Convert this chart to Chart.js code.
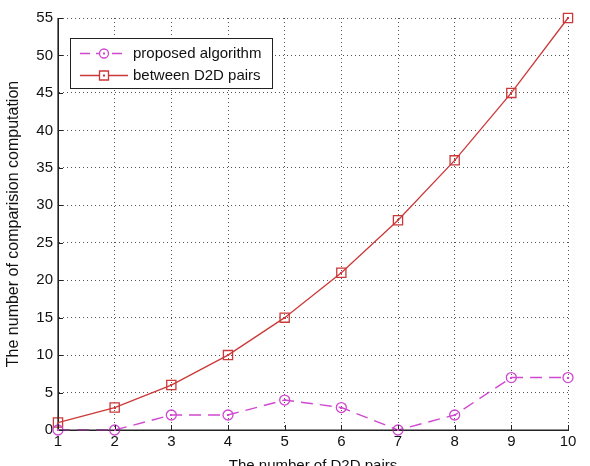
<!DOCTYPE html>
<html>
<head>
<meta charset="utf-8">
<script src="https://cdn.jsdelivr.net/npm/chart.js@4"></script>
<style>
html,body{margin:0;padding:0;background:#fff;}
#wrap{width:590px;height:466px;position:relative;}
</style>
</head>
<body>
<div id="wrap"><canvas id="c" width="590" height="466"></canvas></div>
<script>
const xValues = [1, 2, 3, 4, 5, 6, 7, 8, 9, 10];
const proposedValues = [0, 0, 2, 2, 4, 3, 0, 2, 7, 7];
const betweenValues = [1, 3, 6, 10, 15, 21, 28, 36, 45, 55];
const seriesNames = ['proposed algorithm', 'between D2D pairs'];
const xTitle = 'The number of D2D pairs';
const yTitle = 'The number of comparision computation';

const FONT = "'Liberation Sans', Arial, sans-serif";
const MAG = '#d048d0';
const RED = '#cc3838';

const legendPlugin = {
  id: 'boxLegend',
  afterDraw(chart) {
    const ctx = chart.ctx;
    ctx.save();
    const x0 = 70, y0 = 38, w = 202, h = 50;
    ctx.fillStyle = '#fff';
    ctx.fillRect(x0, y0, w, h);
    ctx.strokeStyle = '#222';
    ctx.lineWidth = 1;
    ctx.strokeRect(x0 + 0.5, y0 + 0.5, w, h);
    const rows = [
      {y: 53, color: MAG, dash: [10, 6], marker: 'circle', text: seriesNames[0]},
      {y: 75, color: RED, dash: [], marker: 'rect', text: seriesNames[1]}
    ];
    rows.forEach(r => {
      ctx.strokeStyle = r.color;
      ctx.lineWidth = 1.3;
      ctx.setLineDash(r.dash);
      ctx.beginPath();
      ctx.moveTo(80, r.y + 0.5);
      ctx.lineTo(128, r.y + 0.5);
      ctx.stroke();
      ctx.setLineDash([]);
      ctx.fillStyle = '#fff';
      ctx.beginPath();
      if (r.marker === 'circle') {
        ctx.arc(104, r.y + 0.5, 4.5, 0, Math.PI * 2);
      } else {
        ctx.rect(99.5, r.y - 4, 9, 9);
      }
      ctx.fill();
      ctx.stroke();
      ctx.fillStyle = r.color;
      ctx.fillRect(103, r.y - 0.5, 2, 2);
      ctx.fillStyle = '#111';
      ctx.font = '15px ' + FONT;
      ctx.textBaseline = 'middle';
      ctx.textAlign = 'left';
      ctx.fillText(r.text, 133, r.y + 1);
    });
    ctx.restore();
  }
};

const axesPlugin = {
  id: 'axesLines',
  afterDatasetsDraw(chart) {
    const a = chart.chartArea;
    const c = chart.ctx;
    c.save();
    c.strokeStyle = '#222';
    c.lineWidth = 1.2;
    c.setLineDash([]);
    c.beginPath();
    c.moveTo(a.left, a.top);
    c.lineTo(a.left, a.bottom);
    c.lineTo(a.right, a.bottom);
    c.stroke();
    c.lineWidth = 1;
    const xs = chart.scales.x, ys = chart.scales.y;
    c.beginPath();
    xs.ticks.forEach(t => {
      const px = Math.round(xs.getPixelForValue(t.value)) + 0.5;
      c.moveTo(px, a.bottom);
      c.lineTo(px, a.bottom - 5);
    });
    ys.ticks.forEach(t => {
      const py = Math.round(ys.getPixelForValue(t.value)) + 0.5;
      c.moveTo(a.left, py);
      c.lineTo(a.left + 5, py);
    });
    c.stroke();
    chart.data.datasets.forEach((ds, i) => {
      const meta = chart.getDatasetMeta(i);
      c.fillStyle = ds.borderColor;
      meta.data.forEach(p => {
        c.fillRect(Math.round(p.x) - 1, Math.round(p.y) - 1, 2, 2);
      });
    });
    c.restore();
  }
};

const ctx = document.getElementById('c');
new Chart(ctx, {
  type: 'line',
  data: {
    datasets: [
      {
        label: seriesNames[0],
        data: xValues.map((x, i) => ({x: x, y: proposedValues[i]})),
        borderColor: MAG,
        backgroundColor: '#fff',
        borderWidth: 1.4,
        borderDash: [12, 7],
        pointStyle: 'circle',
        pointRadius: 5,
        pointBorderWidth: 1.3,
        pointBorderColor: MAG,
        pointBackgroundColor: 'rgba(255,255,255,0)',
        tension: 0,
        clip: false
      },
      {
        label: seriesNames[1],
        data: xValues.map((x, i) => ({x: x, y: betweenValues[i]})),
        borderColor: RED,
        backgroundColor: '#fff',
        borderWidth: 1.3,
        pointStyle: 'rect',
        pointRadius: 6.5,
        pointBorderWidth: 1.3,
        pointBorderColor: RED,
        pointBackgroundColor: 'rgba(255,255,255,0)',
        tension: 0,
        clip: false
      }
    ]
  },
  options: {
    responsive: false,
    animation: false,
    layout: {padding: {top: 18, right: 22, left: 0, bottom: 0}},
    plugins: {legend: {display: false}, tooltip: {enabled: false}},
    scales: {
      x: {
        type: 'linear',
        min: 1, max: 10,
        afterFit(s) { s.height = 36; },
        ticks: {stepSize: 1, color: '#111', font: {family: FONT, size: 15}, padding: 3},
        grid: {color: '#555', lineWidth: 1, drawTicks: false},
        border: {display: true, color: '#222', width: 1, dash: [1, 3]},
        title: {display: true, text: xTitle, color: '#111', font: {family: FONT, size: 15}, padding: {top: 0, bottom: -9}}
      },
      y: {
        min: 0, max: 55,
        afterFit(s) { s.width = 58; },
        ticks: {stepSize: 5, color: '#111', font: {family: FONT, size: 15}, padding: 5},
        grid: {color: '#555', lineWidth: 1, drawTicks: false},
        border: {display: true, color: '#222', width: 1, dash: [1, 3]},
        title: {display: true, text: yTitle, color: '#111', font: {family: FONT, size: 16}, padding: {top: 4, bottom: 0}}
      }
    }
  },
  plugins: [legendPlugin, axesPlugin]
});
</script>
</body>
</html>
